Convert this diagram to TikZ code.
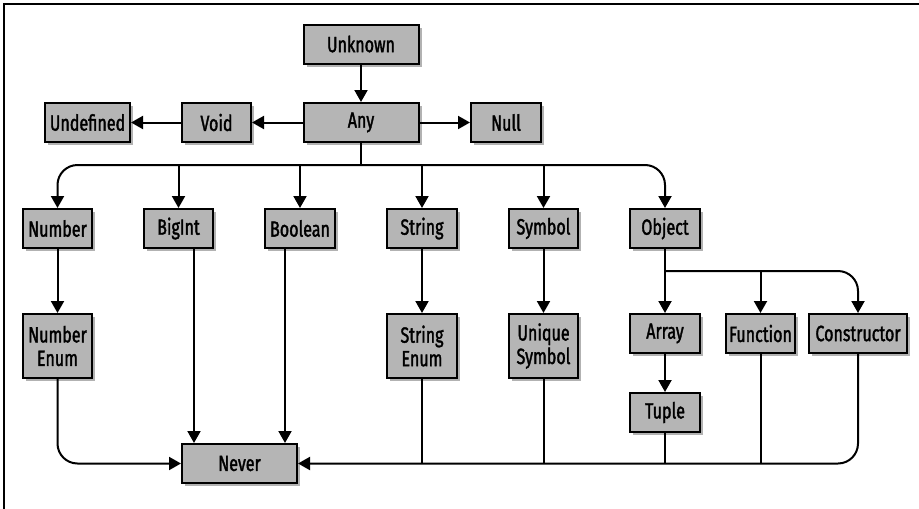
\documentclass[tikz,border=0pt]{standalone}
\usepackage{fontspec}
\setmainfont[FakeStretch=0.73, FakeBold=1.6]{Fira Sans}
\usetikzlibrary{arrows.meta,shadows}
\begin{document}
\begin{tikzpicture}[x=1pt,y=-1pt,
  box/.style={draw=black, line width=2pt, fill=gray!58, inner sep=0pt,
    minimum height=39pt, align=center, font=\fontsize{22}{23.5}\selectfont,
    drop shadow={shadow xshift=3pt, shadow yshift=-3pt, opacity=0.3, fill=black}},
  conn/.style={line width=2pt, draw=black},
  arr/.style={conn, -{Triangle[length=12pt,width=13pt]}},
  rc/.style={rounded corners=20pt}]
\useasboundingbox (0,0) rectangle (919,509);
\draw[line width=1.5pt] (4,509) -- (4,4) -- (919,4);
% nodes
\node[box, minimum width=115pt] (unknown) at (361,44) {Unknown};
\node[box, minimum width=115pt] (any) at (361,122.5) {Any};
\node[box, minimum width=69pt] (void) at (216.5,122.5) {Void};
\node[box, minimum width=85pt] (undef) at (87.5,122.5) {Undefined};
\node[box, minimum width=70pt] (null) at (506,122.5) {Null};
\node[box, minimum width=69pt] (number) at (57.5,228.5) {Number};
\node[box, minimum width=69pt] (bigint) at (178.5,228.5) {BigInt};
\node[box, minimum width=70pt] (boolean) at (300,228.5) {Boolean};
\node[box, minimum width=70pt] (string) at (422,228.5) {String};
\node[box, minimum width=69pt] (symbol) at (543.5,228.5) {Symbol};
\node[box, minimum width=70pt] (object) at (665,228.5) {Object};
\node[box, minimum width=69pt, minimum height=64pt] (numenum) at (57.5,346) {Number\\Enum};
\node[box, minimum width=70pt, minimum height=64pt] (strenum) at (422,346) {String\\Enum};
\node[box, minimum width=69pt, minimum height=64pt] (usym) at (543.5,346) {Unique\\Symbol};
\node[box, minimum width=70pt] (array) at (665,333.5) {Array};
\node[box, minimum width=69pt] (function) at (760.5,333.5) {Function};
\node[box, minimum width=98pt] (ctor) at (858,333.5) {Constructor};
\node[box, minimum width=70pt] (tuple) at (665,412.5) {Tuple};
\node[box, minimum width=115pt] (never) at (239.5,463.5) {Never};
\coordinate (bus) at (361,165);
\coordinate (obus) at (665,271);
% connectors
\draw[arr] (unknown) -- (any);
\draw[arr] (any) -- (void);
\draw[arr] (void) -- (undef);
\draw[arr] (any) -- (null);
\draw[conn] (any.south) -- (bus);
\draw[arr, rc] (bus) -| (number.north);
\draw[arr, rc] (bus) -| (object.north);
\draw[arr] (bus -| bigint.north) -- (bigint.north);
\draw[arr] (bus -| boolean.north) -- (boolean.north);
\draw[arr] (bus -| string.north) -- (string.north);
\draw[arr] (bus -| symbol.north) -- (symbol.north);
\draw[arr] (number) -- (numenum);
\draw[arr] (string) -- (strenum);
\draw[arr] (symbol) -- (usym);
\draw[arr] (object) -- (array);
\draw[arr] (array) -- (tuple);
\draw[arr, rc] (obus) -| (ctor.north);
\draw[arr] (obus -| function.north) -- (function.north);
\draw[arr, rc] (numenum.south) |- (never.west);
\draw[arr] ([xshift=15.5pt]bigint.south) -- ([xshift=15.5pt]bigint.south |- never.north);
\draw[arr] ([xshift=-15pt]boolean.south) -- ([xshift=-15pt]boolean.south |- never.north);
\draw[arr, rc] (ctor.south) |- (never.east);
\draw[conn] (strenum.south) -- (strenum.south |- never.east);
\draw[conn] (usym.south) -- (usym.south |- never.east);
\draw[conn] (tuple.south) -- (tuple.south |- never.east);
\draw[conn] (function.south) -- (function.south |- never.east);
\end{tikzpicture}
\end{document}
